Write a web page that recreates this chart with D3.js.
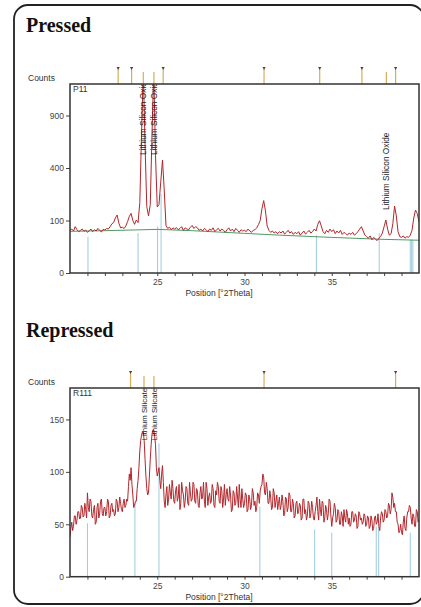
<!DOCTYPE html>
<html>
<head>
<meta charset="utf-8">
<script src="https://cdn.jsdelivr.net/npm/d3@7"></script>
<style>
  html, body { margin: 0; padding: 0; background: #fff; }
  svg { display: block; }
</style>
</head>
<body>
<div id="chart"></div>
<script>
// scan settings (start angle of both patterns, step of each)
const scanStart = 20.0;
const pressedStep = 0.1;
const repressedStep = 0.05;

// Pressed sample P11 — counts every 0.1 °2Theta from 20.0 to 40.0
const pressedCounts = [
  66, 70, 64, 78, 68, 62, 66, 70, 63, 67,
  60, 65, 70, 62, 68, 64, 72, 66, 61, 69,
  67, 72, 70, 78, 88, 92, 110, 122, 90, 74,
  76, 72, 80, 96, 116, 129, 100, 86, 102, 92,
  180, 700, 1500, 600, 160, 118, 170, 700, 1500, 500,
  158, 170, 300, 463, 250, 82, 72, 76, 68, 74,
  70, 75, 68, 72, 78, 66, 74, 70, 68, 76,
  82, 72, 78, 74, 66, 70, 64, 72, 68, 62,
  70, 66, 74, 62, 68, 72, 64, 70, 66, 60,
  68, 74, 64, 70, 62, 72, 66, 60, 68, 64,
  66, 62, 70, 64, 60, 66, 68, 74, 85, 100,
  150, 190, 140, 80, 66, 60, 64, 58, 62, 56,
  62, 58, 64, 55, 60, 66, 58, 62, 54, 60,
  56, 62, 52, 58, 64, 55, 60, 66, 58, 62,
  70, 64, 86, 99, 80, 62, 56, 66, 60, 70,
  62, 68, 56, 64, 58, 66, 54, 60, 56, 52,
  58, 54, 60, 52, 56, 62, 70, 78, 64, 52,
  48, 44, 50, 40, 46, 42, 38, 44, 48, 58,
  78, 102, 70, 52, 56, 88, 163, 118, 62, 48,
  46, 50, 44, 48, 46, 52, 66, 110, 144, 128,
  95
];

// Repressed sample R111 — counts every 0.05 °2Theta from 20.0 to 40.0
const repressedCounts = [
  38, 46, 52, 44, 48, 58, 58, 50, 54, 62, 62, 55, 56, 68, 66, 57, 58, 70, 64, 56,
  80, 66, 62, 74, 72, 58, 56, 64, 68, 50, 52, 66, 70, 56, 60, 72, 74, 60, 58, 66,
  66, 58, 62, 74, 72, 56, 58, 68, 70, 62, 64, 58, 60, 74, 72, 62, 66, 76, 70, 64,
  62, 70, 74, 66, 68, 74, 72, 86, 98, 92, 104, 88, 78, 66, 68, 72, 72, 84, 92, 104,
  120, 130, 135, 138, 138, 130, 112, 96, 84, 78, 80, 96, 112, 126, 136, 140, 140, 134, 126, 104,
  96, 100, 104, 92, 84, 98, 106, 90, 72, 66, 78, 86, 68, 74, 88, 80, 74, 92, 84, 72,
  70, 82, 86, 72, 76, 88, 64, 70, 90, 82, 78, 66, 72, 86, 84, 70, 68, 90, 80, 72,
  74, 90, 88, 72, 70, 84, 82, 68, 66, 80, 86, 74, 76, 90, 72, 66, 90, 84, 68, 76,
  80, 70, 72, 88, 84, 68, 66, 82, 78, 90, 86, 72, 70, 86, 82, 66, 74, 88, 68, 78,
  84, 74, 72, 86, 78, 62, 64, 82, 80, 68, 70, 86, 76, 66, 88, 74, 66, 84, 74, 66,
  70, 80, 78, 62, 64, 78, 74, 64, 68, 84, 80, 68, 72, 62, 66, 80, 78, 70, 82, 86,
  88, 98, 95, 80, 78, 90, 84, 70, 70, 82, 76, 64, 66, 84, 80, 66, 72, 78, 64, 70,
  76, 64, 68, 78, 72, 58, 60, 76, 74, 62, 66, 80, 78, 62, 62, 74, 70, 56, 58, 70,
  72, 60, 62, 70, 68, 54, 56, 74, 74, 60, 64, 54, 58, 72, 70, 56, 60, 72, 66, 56,
  54, 62, 68, 76, 62, 54, 74, 64, 58, 72, 70, 52, 56, 68, 64, 54, 60, 74, 72, 58,
  48, 56, 60, 70, 66, 52, 54, 64, 62, 50, 50, 62, 58, 48, 64, 56, 52, 64, 60, 50,
  56, 48, 50, 62, 62, 52, 54, 60, 58, 46, 48, 62, 60, 54, 56, 50, 52, 60, 58, 48,
  50, 58, 56, 46, 48, 58, 54, 44, 46, 56, 58, 50, 52, 60, 48, 44, 56, 62, 60, 52,
  54, 64, 62, 56, 58, 70, 68, 60, 64, 80, 76, 66, 70, 62, 62, 52, 50, 42, 44, 50,
  42, 40, 52, 58, 46, 44, 56, 62, 62, 68, 66, 56, 50, 60, 58, 48, 48, 64, 62, 52,
  55
];

// fitted background of the pressed scan [2theta, counts]
const pressedBackground = [[20, 63], [22, 65], [25, 69], [27, 65], [30, 57], [32, 52], [35, 46], [38, 41], [40, 39]];

// peak list sticks [2theta, counts]
const pressedSticks = [[21.03, 48], [23.9, 58], [25.02, 78], [25.22, 226], [34.12, 52], [37.72, 58], [39.5, 40], [39.58, 40], [39.65, 40]];
const repressedSticks = [[21.0, 51], [23.72, 70], [25.1, 127], [30.88, 67], [34.02, 45], [35.0, 42], [37.55, 48], [37.69, 48], [39.5, 42]];

// reference pattern markers above the plot (with / without tip)
const pressedMarkers = [22.76, 23.53, 25.34, 31.12, 34.31, 36.73, 38.66];
const pressedMarkersPlain = [24.2, 24.81, 38.13];
const repressedMarkers = [23.47, 31.12, 38.66];
const repressedMarkersPlain = [24.24, 24.81];

// phase labels [2theta, counts at text start, text]
const pressedLabels = [[24.2, 505, "Lithium Silicon Oxide"], [24.81, 505, "Lithium Silicon Oxide"], [38.13, 144, "Lithium Silicon Oxide"]];
const repressedLabels = [[24.24, 130, "Lithium Silicate"], [24.81, 130, "Lithium Silicate"]];

const xTicks = [25, 30, 35];
const xMinorTicks = [21, 22, 23, 24, 26, 27, 28, 29, 31, 32, 33, 34, 36, 37, 38, 39];
const pressedYTicks = [0, 100, 400, 900];
const repressedYTicks = [0, 50, 100, 150];

const W = 421, H = 607;
const sans = "'Liberation Sans', Arial, sans-serif";
const serif = "'Liberation Serif', 'Times New Roman', serif";

const svg = d3.select("#chart").append("svg")
    .attr("width", W)
    .attr("height", H);

// rounded frame around the whole figure
svg.append("rect")
    .attr("x", 14).attr("y", 5)
    .attr("width", 410).attr("height", 599)
    .attr("rx", 14)
    .attr("fill", "none")
    .attr("stroke", "#222")
    .attr("stroke-width", 1.8);

function drawPanel(cfg) {
    const g = svg.append("g");
    const left = 70, right = 419;

    const x = d3.scaleLinear().domain([20, 40]).range([left, right]);
    const y = (cfg.sqrt ? d3.scaleSqrt() : d3.scaleLinear())
        .domain([0, cfg.yMax]).range([cfg.bottom, cfg.top]);

    // title
    g.append("text")
        .attr("x", 26).attr("y", cfg.titleY)
        .attr("font-family", serif)
        .attr("font-weight", "bold")
        .attr("font-size", 20)
        .attr("fill", "#111")
        .text(cfg.title);

    g.append("text")
        .attr("x", 28).attr("y", cfg.top - 3)
        .attr("font-family", sans).attr("font-size", 8.5)
        .attr("fill", "#333")
        .text("Counts");

    // reference markers above the frame
    const mk = g.append("g");
    mk.selectAll(".mLine")
        .data(cfg.markers)
        .join("line")
        .attr("x1", d => x(d)).attr("x2", d => x(d))
        .attr("y1", cfg.top - 15).attr("y2", cfg.top)
        .attr("stroke", "#d6ae5a").attr("stroke-width", 1.2);
    mk.selectAll(".mTip")
        .data(cfg.markers)
        .join("path")
        .attr("d", d => `M${x(d) - 1.6},${cfg.top - 17}L${x(d) + 1.6},${cfg.top - 17}L${x(d)},${cfg.top - 14}Z`)
        .attr("fill", "#444");
    mk.selectAll(".mPlain")
        .data(cfg.markersPlain)
        .join("line")
        .attr("x1", d => x(d)).attr("x2", d => x(d))
        .attr("y1", cfg.top - 12).attr("y2", cfg.top)
        .attr("stroke", "#d6ae5a").attr("stroke-width", 1.2);

    const clipId = "clip" + cfg.id;
    svg.append("clipPath").attr("id", clipId)
        .append("rect")
        .attr("x", left).attr("y", cfg.top)
        .attr("width", right - left).attr("height", cfg.bottom - cfg.top);

    const plot = g.append("g").attr("clip-path", `url(#${clipId})`);

    // peak sticks
    plot.selectAll(".stick")
        .data(cfg.sticks)
        .join("line")
        .attr("x1", d => x(d[0])).attr("x2", d => x(d[0]))
        .attr("y1", y(0)).attr("y2", d => y(d[1]))
        .attr("stroke", "#9ccbdc").attr("stroke-width", 1);

    if (cfg.background) {
        plot.append("path")
            .datum(cfg.background)
            .attr("d", d3.line().x(d => x(d[0])).y(d => y(d[1])))
            .attr("fill", "none")
            .attr("stroke", "#4f9a66")
            .attr("stroke-width", 1);
    }

    plot.append("path")
        .datum(cfg.counts)
        .attr("d", d3.line().x((d, i) => x(scanStart + i * cfg.step)).y(d => y(d)))
        .attr("fill", "none")
        .attr("stroke", "#b3262b")
        .attr("stroke-width", 1);

    // phase labels
    plot.selectAll(".lbl")
        .data(cfg.labels)
        .join("text")
        .attr("transform", d => `translate(${x(d[0])},${y(d[1])}) rotate(-90)`)
        .attr("dy", "0.35em")
        .attr("font-family", sans).attr("font-size", cfg.labelSize)
        .attr("fill", "#222")
        .text(d => d[2]);

    g.append("text")
        .attr("x", left + 3).attr("y", cfg.top + 8)
        .attr("font-family", sans).attr("font-size", 8.5)
        .attr("fill", "#333")
        .text(cfg.id);

    // axes
    const yAxis = g.append("g")
        .attr("transform", `translate(${left},0)`)
        .call(d3.axisLeft(y).tickValues(cfg.yTicks).tickSize(4).tickPadding(2).tickFormat(d3.format("d")));
    yAxis.select(".domain").remove();

    const xAxis = g.append("g")
        .attr("transform", `translate(0,${cfg.bottom})`)
        .call(d3.axisBottom(x).tickValues(xTicks).tickSize(3).tickPadding(3));
    xAxis.select(".domain").remove();

    g.append("g")
        .attr("transform", `translate(0,${cfg.bottom})`)
        .call(d3.axisBottom(x).tickValues(xMinorTicks).tickSize(3).tickFormat(""))
        .select(".domain").remove();

    g.selectAll(".tick text")
        .attr("font-family", sans).attr("font-size", 8.5).attr("fill", "#444");
    g.selectAll(".tick line").attr("stroke", "#444");

    g.append("rect")
        .attr("x", left).attr("y", cfg.top)
        .attr("width", right - left).attr("height", cfg.bottom - cfg.top)
        .attr("fill", "none")
        .attr("stroke", "#333")
        .attr("stroke-width", 1.5);

    g.append("text")
        .attr("x", 219).attr("y", cfg.bottom + 23)
        .attr("text-anchor", "middle")
        .attr("font-family", sans).attr("font-size", 8.5)
        .attr("fill", "#333")
        .text("Position [°2Theta]");
}

drawPanel({
    id: "P11", title: "Pressed", titleY: 32,
    top: 84, bottom: 273, yMax: 1296, sqrt: true, step: pressedStep,
    counts: pressedCounts, background: pressedBackground,
    sticks: pressedSticks, markers: pressedMarkers, markersPlain: pressedMarkersPlain,
    labels: pressedLabels, labelSize: 8.3, yTicks: pressedYTicks
});

drawPanel({
    id: "R111", title: "Repressed", titleY: 337,
    top: 388, bottom: 576.7, yMax: 180, sqrt: false, step: repressedStep,
    counts: repressedCounts, background: null,
    sticks: repressedSticks, markers: repressedMarkers, markersPlain: repressedMarkersPlain,
    labels: repressedLabels, labelSize: 7.8, yTicks: repressedYTicks
});
</script>
</body>
</html>
